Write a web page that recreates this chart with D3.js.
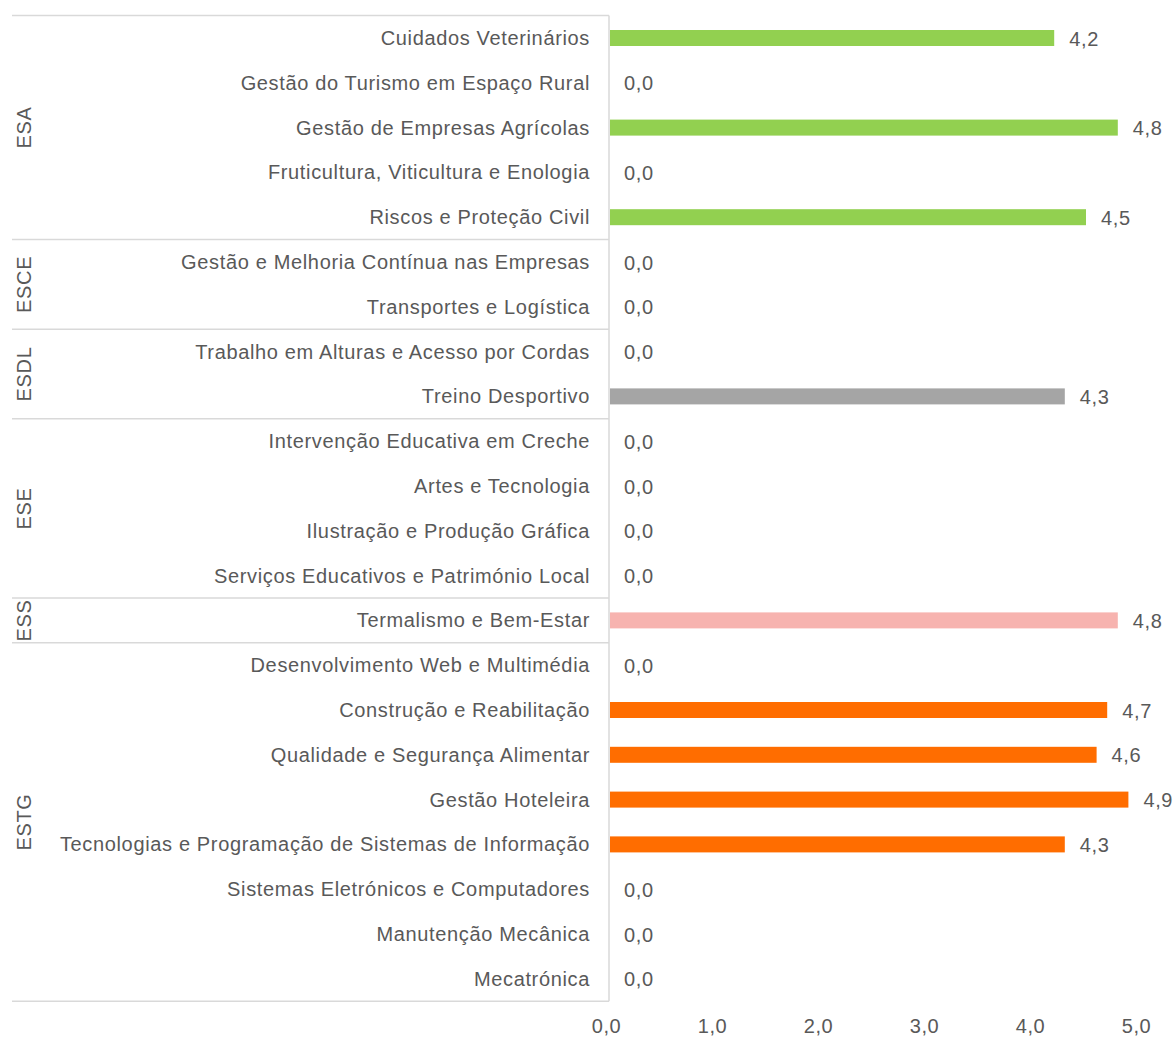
<!DOCTYPE html>
<html><head><meta charset="utf-8">
<script src="https://cdn.jsdelivr.net/npm/d3@7"></script>
<style>body{margin:0;background:#fff}text{font-family:"Liberation Sans",Arial,sans-serif;fill:#595959;letter-spacing:0.65px}</style>
</head><body><svg id="c" width="1175" height="1037"></svg>
<script>
const courses = ["Cuidados Veterinários","Gestão do Turismo em Espaço Rural","Gestão de Empresas Agrícolas","Fruticultura, Viticultura e Enologia","Riscos e Proteção Civil","Gestão e Melhoria Contínua nas Empresas","Transportes e Logística","Trabalho em Alturas e Acesso por Cordas","Treino Desportivo","Intervenção Educativa em Creche","Artes e Tecnologia","Ilustração e Produção Gráfica","Serviços Educativos e Património Local","Termalismo e Bem-Estar","Desenvolvimento Web e Multimédia","Construção e Reabilitação","Qualidade e Segurança Alimentar","Gestão Hoteleira","Tecnologias e Programação de Sistemas de Informação","Sistemas Eletrónicos e Computadores","Manutenção Mecânica","Mecatrónica"];
const schools = ["ESA","ESA","ESA","ESA","ESA","ESCE","ESCE","ESDL","ESDL","ESE","ESE","ESE","ESE","ESS","ESTG","ESTG","ESTG","ESTG","ESTG","ESTG","ESTG","ESTG"];
const values = [4.2,0.0,4.8,0.0,4.5,0.0,0.0,0.0,4.3,0.0,0.0,0.0,0.0,4.8,0.0,4.7,4.6,4.9,4.3,0.0,0.0,0.0];
const groups = ["ESA","ESCE","ESDL","ESE","ESS","ESTG"];
const groupColors = ["#92D050","#A5A5A5","#A5A5A5","#A5A5A5","#F7B3AF","#FF6D00"];
const ticks = [0,1,2,3,4,5];

(function(){
const svg = d3.select("#c");
const L = 609, R = 1139, T = 15.6, B = 1001.2;
const x = d3.scaleLinear().domain([0,5]).range([L,R]);
const y = d3.scaleBand().domain(d3.range(courses.length)).range([T,B]).paddingInner(0).paddingOuter(0);
const color = d3.scaleOrdinal().domain(groups).range(groupColors);
const fmt = v => d3.format(".1f")(v).replace(".",",");
const fs = 20;

const bounds = groups.map(g=>{
  const idx = schools.map((s,i)=>s===g?i:-1).filter(i=>i>=0);
  return {g, a: d3.min(idx), b: d3.max(idx)};
});
const edges = [0, ...bounds.map(b=>b.b+1)];
svg.selectAll("line.sep").data(edges).join("line")
  .attr("x1",12).attr("x2",L)
  .attr("y1",d=>T+d*y.step()).attr("y2",d=>T+d*y.step())
  .attr("stroke","#D9D9D9").attr("stroke-width",1.5);
svg.append("line").attr("x1",L).attr("x2",L).attr("y1",T).attr("y2",B)
  .attr("stroke","#D9D9D9").attr("stroke-width",1.5);

const bh = 16;
svg.selectAll("rect.bar").data(values).join("rect")
  .attr("x",x(0)+1).attr("y",(d,i)=>y(i)+y.bandwidth()/2-bh/2)
  .attr("width",d=>Math.max(0,x(d)-x(0)-1)).attr("height",bh)
  .attr("fill",(d,i)=>color(schools[i]));

svg.selectAll("text.val").data(values).join("text")
  .attr("x",d=>x(d)+15).attr("y",(d,i)=>y(i)+y.bandwidth()/2+0.5)
  .attr("dy","0.35em").attr("font-size",fs).text(d=>fmt(d));

svg.selectAll("text.cat").data(courses).join("text")
  .attr("x",590).attr("y",(d,i)=>y(i)+y.bandwidth()/2)
  .attr("dy","0.35em").attr("text-anchor","end").attr("font-size",fs).text(d=>d);

svg.selectAll("text.grp").data(bounds).join("text")
  .attr("transform",d=>{const cy=(y(d.a)+y(d.b)+y.bandwidth())/2;return `translate(31,${cy}) rotate(-90)`;})
  .attr("text-anchor","middle").attr("font-size",fs).text(d=>d.g);

const ax = svg.append("g").attr("transform",`translate(-3,${B})`)
  .call(d3.axisBottom(x).tickValues(ticks).tickFormat(fmt).tickSize(0).tickPadding(18));
ax.select(".domain").remove();
ax.selectAll("text").attr("font-size",fs).attr("font-family",'"Liberation Sans",Arial,sans-serif').attr("fill","#595959");
})();
</script></body></html>
